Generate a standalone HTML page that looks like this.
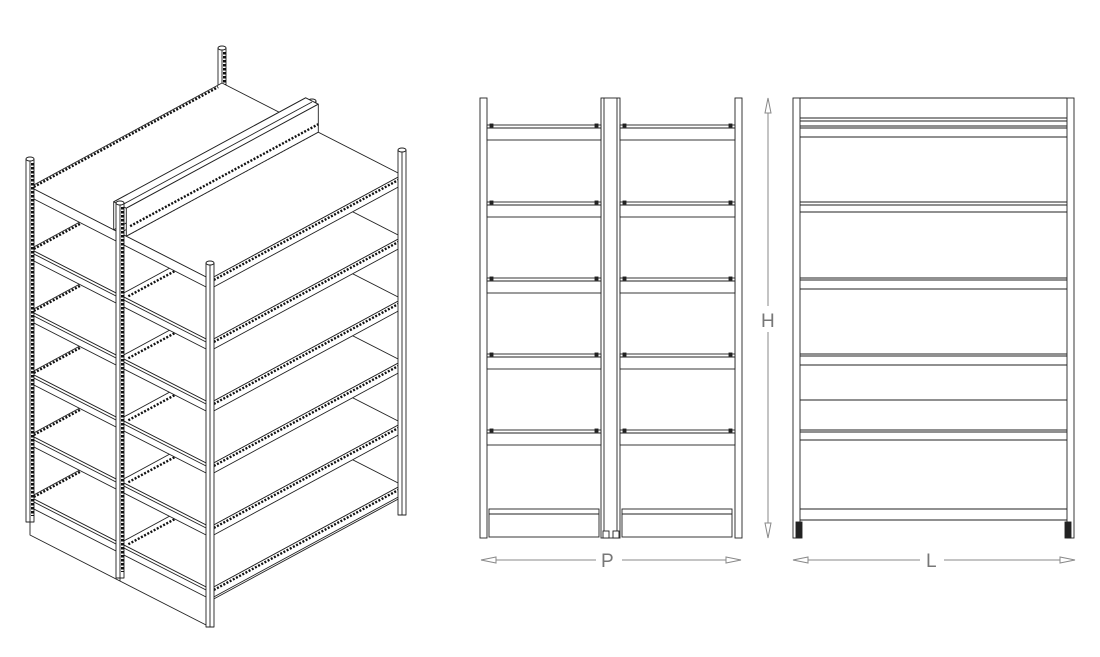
<!DOCTYPE html>
<html><head><meta charset="utf-8"><style>
html,body{margin:0;padding:0;background:#fff;width:1100px;height:657px;overflow:hidden}
svg{display:block}
text{font-family:"Liberation Sans",sans-serif;fill:#777;font-size:19px}
</style></head><body>
<svg id="s" width="1100" height="657" viewBox="0 0 1100 657" xmlns="http://www.w3.org/2000/svg">
<g id="iso" stroke="#222" stroke-width="0.9" fill="#fff" stroke-linejoin="round"></g>
<g stroke="#222" stroke-width="0.9" fill="#fff">
<!-- middle elevation -->
<rect x="480" y="98" width="7" height="440"/>
<rect x="601" y="98" width="19" height="440"/>
<line x1="604" y1="98" x2="604" y2="531"/><line x1="617" y1="98" x2="617" y2="531"/>
<rect x="735" y="98" width="7" height="440"/>
<g id="mid"></g>
<rect x="489" y="509" width="110" height="28"/>
<line x1="489" y1="514" x2="599" y2="514"/>
<rect x="622" y="509" width="110" height="28"/>
<line x1="622" y1="514" x2="732" y2="514"/>
<rect x="603" y="531" width="6" height="7"/><rect x="613" y="531" width="6" height="7"/>
<!-- right elevation -->
<rect x="793" y="98" width="7" height="440"/>
<rect x="1067" y="98" width="7" height="440"/>
<line x1="800" y1="98" x2="1067" y2="98"/>
<g id="rgt"></g>
<rect x="796" y="522" width="6" height="16" fill="#222"/>
<rect x="1065" y="522" width="6" height="16" fill="#222"/>
</g>
<!-- dimensions -->
<g stroke="#888" stroke-width="1" fill="#fff">
<line x1="484" y1="560" x2="596" y2="560"/><line x1="622" y1="560" x2="738" y2="560"/>
<polygon points="481,560 496,557 496,563"/><polygon points="741,560 726,557 726,563"/>
<line x1="796" y1="560" x2="920" y2="560"/><line x1="944" y1="560" x2="1072" y2="560"/>
<polygon points="793,560 808,557 808,563"/><polygon points="1075,560 1060,557 1060,563"/>
<line x1="768" y1="101" x2="768" y2="306"/><line x1="768" y1="332" x2="768" y2="535"/>
<polygon points="768,98 765,113 771,113"/><polygon points="768,538 765,523 771,523"/>
</g>
<text x="601" y="567">P</text>
<text x="926" y="567">L</text>
<text x="761" y="327">H</text>
</svg>
<script>
var NS="http://www.w3.org/2000/svg";
function el(par,tag,a){var e=document.createElementNS(NS,tag);for(var k in a)e.setAttribute(k,a[k]);par.appendChild(e);return e;}
var mid=document.getElementById('mid'),rgt=document.getElementById('rgt');
[125,202,278,354,430].forEach(function(s){
 [[487,601],[620,735]].forEach(function(r){
  el(mid,'rect',{x:r[0],y:s,width:r[1]-r[0],height:15});
  el(mid,'line',{x1:r[0],y1:s+3,x2:r[1],y2:s+3});
  el(mid,'rect',{x:r[0]+3,y:s-1,width:3,height:3,fill:'#222'});
  el(mid,'rect',{x:r[1]-6,y:s-1,width:3,height:3,fill:'#222'});
 });
});
[[118,121,126,128,137],[202,205,212],[278,280,289],[354,356,365],[400],[430,432,440],[509,520]].forEach(function(g){
 g.forEach(function(y){el(rgt,'line',{x1:800,y1:y,x2:1067,y2:y});});
});
var iso=document.getElementById('iso');
function p(u,w,h){return [30+192*u+90*w,187-104*u+46*w-h];}
function poly(pts,extra){var a={points:pts.map(function(q){return q[0].toFixed(1)+','+q[1].toFixed(1)}).join(' ')};for(var k in extra)a[k]=extra[k];return el(iso,'polygon',a);}
function line(a,b,extra){var o={x1:a[0],y1:a[1],x2:b[0],y2:b[1]};for(var k in extra)o[k]=extra[k];return el(iso,'line',o);}
var PERF={'stroke-dasharray':'2 1.6','stroke-width':2.4,stroke:'#111'};
function post(u,w,top,bot,perf){
 var t=p(u,w,top),b=p(u,w,bot);
 el(iso,'rect',{x:t[0]-4,y:t[1],width:8,height:b[1]-t[1]});
 line([t[0],t[1]+2],[t[0],b[1]]);
 el(iso,'ellipse',{cx:t[0],cy:t[1],rx:4,ry:2});
 if(perf)line([t[0]+2.5,t[1]+4],[t[0]+2.5,b[1]-6],{'stroke-dasharray':'2.5 1.5','stroke-width':3,stroke:'#111'});
}
post(1,0,35,-345,true);
post(1,1,28,-345,false);
var T=10;
for(var i=5;i>=0;i--){
 var h=-62*i;
 if(i==5){
  poly([p(0,0,h),p(0,2,h),p(0,2,h-38),p(0,0,h-38)]);
  line(p(0,1,h),p(0,1,h-38));
  line(p(0,0,h-4),p(0,2,h-4),{'stroke-width':1.5});
  poly([p(0,2,h),p(1,2,h),p(1,2,h-12),p(0,2,h-12)]);
 }
 poly([p(0,0,h),p(1,0,h),p(1,2,h),p(0,2,h)]);
 line(p(0.02,0,h-2),p(0.98,0,h-2),PERF);
 poly([p(0,2,h),p(1,2,h),p(1,2,h-T),p(0,2,h-T)]);
 line(p(0.02,2,h-3),p(0.98,2,h-3),PERF);
 poly([p(0,0,h),p(0,2,h),p(0,2,h-T),p(0,0,h-T)]);
 if(i>0) line(p(0,0,h-3),p(0,2,h-3));
 line(p(0,1,h),p(1,1,h));
 line(p(0.02,1.05,h-1),p(0.98,1.05,h-1),PERF);
}
poly([p(0,0.93,0),p(1,0.93,0),p(1,0.93,28),p(0,0.93,28)]);
poly([p(0,0.93,28),p(1,0.93,28),p(1,1.07,28),p(0,1.07,28)]);
poly([p(0,1.07,28),p(1,1.07,28),p(1,1.07,0),p(0,1.07,0)]);
line(p(0.02,1.0,27),p(1,1.0,27));
line(p(0.02,1.07,8),p(1,1.07,8),PERF);
post(0,0,28,-335,true);
post(1,2,25,-340,false);
post(0,1,30,-345,true);
post(0,2,16,-348,false);
</script>
</body></html>
